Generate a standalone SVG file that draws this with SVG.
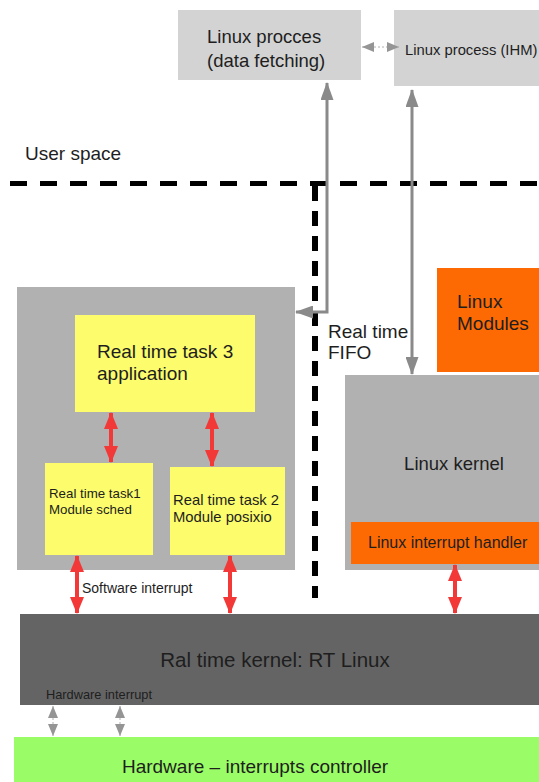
<svg xmlns="http://www.w3.org/2000/svg" width="539" height="782" viewBox="0 0 539 782">
<style>
text{font-family:"Liberation Sans",Arial,sans-serif;fill:#1e1e1e}
.red{stroke:#f33838;stroke-width:4;fill:none;marker-start:url(#rh);marker-end:url(#rh)}
.gray{stroke:#8a8a8a;stroke-width:3;fill:none;marker-start:url(#gh);marker-end:url(#gh)}
.sg{stroke:#b0b0b0;stroke-width:1;stroke-dasharray:2 2;fill:none;marker-start:url(#sh);marker-end:url(#sh)}
.dash{stroke:#000;fill:none}
</style>
<defs>
<marker id="rh" markerUnits="userSpaceOnUse" markerWidth="17" markerHeight="14" refX="16" refY="7" orient="auto-start-reverse"><path d="M0,0 L17,7 L0,14 z" fill="#f33838"/></marker>
<marker id="gh" markerUnits="userSpaceOnUse" markerWidth="18" markerHeight="13" refX="17" refY="6.5" orient="auto-start-reverse"><path d="M0,0 L18,6.5 L0,13 z" fill="#8a8a8a"/></marker>
<marker id="sh" markerUnits="userSpaceOnUse" markerWidth="12" markerHeight="10" refX="12" refY="5" orient="auto-start-reverse"><path d="M0,0 L12,5 L0,10 z" fill="#959595"/></marker>
</defs>
<rect width="539" height="782" fill="#fff"/>

<text x="25" y="160" font-size="19">User space</text>

<g id="proc-data">
<rect x="178" y="10" width="183" height="70" fill="#d3d3d3"/>
<text x="207" y="43" font-size="18.5">Linux procces</text>
<text x="207" y="67" font-size="18.5">(data fetching)</text>
</g>
<g id="proc-ihm">
<rect x="394" y="10" width="145" height="76" fill="#d3d3d3"/>
<text x="405" y="55" font-size="14.8">Linux process (IHM)</text>
</g>

<g id="rt-container">
<rect x="17" y="287" width="278" height="283" fill="#b1b1b1"/>
</g>
<g id="task3">
<rect x="75" y="315" width="180" height="97" fill="#fcfc6c"/>
<text x="97" y="358" font-size="19">Real time task 3</text>
<text x="97" y="380" font-size="19">application</text>
</g>
<g id="task1">
<rect x="45" y="463" width="108" height="92" fill="#fcfc6c"/>
<text x="49" y="498" font-size="13.3">Real time task1</text>
<text x="49" y="514" font-size="13.3">Module sched</text>
</g>
<g id="task2">
<rect x="170" y="467" width="115" height="88" fill="#fcfc6c"/>
<text x="173" y="505" font-size="14.8">Real time task 2</text>
<text x="173" y="522" font-size="14.8">Module posixio</text>
</g>

<g id="linux-modules">
<rect x="437" y="268" width="102" height="104" fill="#fd6a04"/>
<text x="457" y="308" font-size="19">Linux</text>
<text x="457" y="330" font-size="19">Modules</text>
</g>
<g id="linux-kernel">
<rect x="345" y="375" width="194" height="195" fill="#b1b1b1"/>
<text x="454" y="470" font-size="18.5" text-anchor="middle">Linux kernel</text>
</g>
<g id="linux-irq">
<rect x="351" y="522" width="188" height="42" fill="#fd6a04"/>
<text x="368" y="548" font-size="16">Linux interrupt handler</text>
</g>

<g id="rt-kernel">
<rect x="20" y="614" width="519" height="91" fill="#646464"/>
<text x="275" y="667" font-size="20.5" text-anchor="middle" fill="#1a1a1a">Ral time kernel: RT Linux</text>
</g>
<g id="hardware">
<rect x="14" y="737" width="525" height="45" fill="#9afc66"/>
<text x="255" y="773" font-size="19" text-anchor="middle">Hardware – interrupts controller</text>
</g>

<text x="328" y="338" font-size="19">Real time</text>
<text x="328" y="359" font-size="19">FIFO</text>
<text x="82" y="593" font-size="14">Software interrupt</text>
<text x="46" y="699" font-size="12.8">Hardware interrupt</text>

<g id="connectors">
<path class="dash" d="M10,183.5 H539" stroke-width="5" stroke-dasharray="17 13"/>
<path class="dash" d="M315,186 V598" stroke-width="6" stroke-dasharray="15 10"/>
<path class="gray" d="M296,312 H327 V83"/>
<path class="gray" d="M412,90 V374"/>
<path class="sg" d="M362,47 H399"/>
<path class="red" d="M111,413 V462"/>
<path class="red" d="M212,413 V466"/>
<path class="red" d="M77,556 V613"/>
<path class="red" d="M230,556 V613"/>
<path class="red" d="M455,565 V613"/>
<path class="sg" d="M53,706 V736"/>
<path class="sg" d="M120,706 V736"/>
</g>
</svg>
